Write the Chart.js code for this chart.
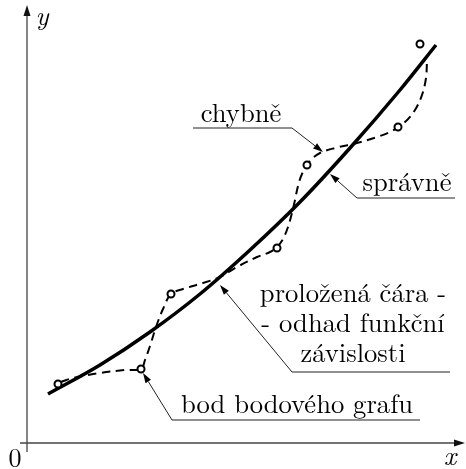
<!DOCTYPE html>
<html>
<head>
<meta charset="utf-8">
<script src="https://cdn.jsdelivr.net/npm/chart.js@4/dist/chart.umd.min.js"></script>
<style>
html,body{margin:0;padding:0;background:#fff;}
canvas{display:block;}
</style>
</head>
<body>
<canvas id="c" width="466" height="469"></canvas>
<script>
// ---- data (units measured from the origin of the drawn axes) ----
const pointX = [31, 114, 144, 250, 280, 371, 393];
const pointY = [59, 74, 149, 195, 278, 316, 399];

const fitX = [21, 73, 123, 173, 223, 273, 323, 373, 409];
const fitY = [49, 78, 111, 149, 193, 241, 295, 353, 398];

const wrongX = [34, 46, 73, 98, 114, 118, 123, 129, 136, 144, 156, 176, 193, 210, 230, 243, 250, 256, 261, 265, 268, 271, 275, 283, 293, 308, 330, 350, 365, 378, 388, 395, 399, 400];
const wrongY = [61, 65, 70, 73, 74, 83, 97, 116, 134, 149, 154, 160, 166, 176, 186, 191, 196, 204, 216, 230, 243, 257, 269, 282, 290, 295, 300, 306, 312, 321, 333, 348, 365, 383];

const axisLabels = ['x', 'y', '0'];
const noteTexts = [
  ['chybně'],
  ['správně'],
  ['proložená čára -', '- odhad funkční', 'závislosti'],
  ['bod bodového grafu']
];
const noteTips = [[296, 291], [303, 269], [193, 158], [116, 70]];

const toXY = (xs, ys) => xs.map((x, i) => ({x: x, y: ys[i]}));

// ---- layout of annotations (data units) ----
const noteLayout = [
  {cx: 214, base: [321], uy: 315, ux1: 166, ux2: 265, elbow: 'right'},
  {cx: 380, base: [252], uy: 245, ux1: 330, ux2: 428, elbow: 'left'},
  {cx: 326, base: [141, 111, 81], uy: 71, ux1: 265, ux2: 423, elbow: 'left'},
  {cx: 270, base: [30], uy: 23, ux1: 145, ux2: 393, elbow: 'left'}
];
const axisExtent = {xFrom: -7, xTo: 438, yFrom: -9, yTo: 438};
const SERIF = '"Latin Modern Roman", "Liberation Serif", serif';

function arrow(ctx, x1, y1, x2, y2, len, hw) {
  const ang = Math.atan2(y2 - y1, x2 - x1);
  const bx = x2 - len * Math.cos(ang), by = y2 - len * Math.sin(ang);
  ctx.beginPath();
  ctx.moveTo(x1, y1);
  ctx.lineTo(bx, by);
  ctx.stroke();
  ctx.beginPath();
  ctx.moveTo(x2, y2);
  ctx.lineTo(bx + hw * Math.sin(ang), by - hw * Math.cos(ang));
  ctx.lineTo(bx - hw * Math.sin(ang), by + hw * Math.cos(ang));
  ctx.closePath();
  ctx.fill();
}

const axesPlugin = {
  id: 'axesPlugin',
  beforeDatasetsDraw(chart) {
    const ctx = chart.ctx, xs = chart.scales.x, ys = chart.scales.y;
    const ox = xs.getPixelForValue(0), oy = ys.getPixelForValue(0);
    ctx.save();
    ctx.strokeStyle = '#444';
    ctx.fillStyle = '#111';
    ctx.lineWidth = 1.3;
    arrow(ctx, xs.getPixelForValue(axisExtent.xFrom), oy, xs.getPixelForValue(axisExtent.xTo), oy, 11, 3.5);
    arrow(ctx, ox, ys.getPixelForValue(axisExtent.yFrom), ox, ys.getPixelForValue(axisExtent.yTo), 11, 3.5);
    ctx.fillStyle = '#000';
    ctx.textBaseline = 'alphabetic';
    ctx.textAlign = 'center';
    ctx.font = 'italic 27px ' + SERIF;
    ctx.fillText(axisLabels[0], xs.getPixelForValue(423), ys.getPixelForValue(-22));
    ctx.fillText(axisLabels[1], xs.getPixelForValue(15), ys.getPixelForValue(418));
    ctx.font = '26px ' + SERIF;
    ctx.fillText(axisLabels[2], xs.getPixelForValue(-12), ys.getPixelForValue(-24));
    ctx.restore();
  },
  afterDatasetsDraw(chart) {
    const ctx = chart.ctx, xs = chart.scales.x, ys = chart.scales.y;
    const px = v => xs.getPixelForValue(v), py = v => ys.getPixelForValue(v);
    ctx.save();
    ctx.strokeStyle = '#222';
    ctx.fillStyle = '#000';
    ctx.lineWidth = 1;
    noteLayout.forEach((L, i) => {
      ctx.beginPath();
      ctx.moveTo(px(L.ux1), py(L.uy));
      ctx.lineTo(px(L.ux2), py(L.uy));
      ctx.stroke();
      const ex = L.elbow === 'left' ? L.ux1 : L.ux2;
      arrow(ctx, px(ex), py(L.uy), px(noteTips[i][0]), py(noteTips[i][1]), 10, 3.2);
      ctx.textAlign = 'center';
      ctx.textBaseline = 'alphabetic';
      ctx.font = '26.6px ' + SERIF;
      noteTexts[i].forEach((t, j) => ctx.fillText(t, px(L.cx), py(L.base[j])));
    });
    ctx.restore();
  }
};

function build() {
  new Chart(document.getElementById('c'), {
    type: 'scatter',
    data: {
      datasets: [
        {
          label: 'body',
          data: toXY(pointX, pointY),
          showLine: false,
          pointRadius: 3.5,
          pointBorderWidth: 2,
          pointBackgroundColor: '#fff',
          pointBorderColor: '#000',
          order: 0
        },
        {
          label: 'správně',
          data: toXY(fitX, fitY),
          showLine: true,
          borderColor: '#000',
          borderWidth: 3.5,
          pointRadius: 0,
          cubicInterpolationMode: 'monotone',
          order: 1
        },
        {
          label: 'chybně',
          data: toXY(wrongX, wrongY),
          showLine: true,
          borderColor: '#000',
          borderWidth: 2,
          borderDash: [8.5, 5.5],
          pointRadius: 0,
          tension: 0.35,
          order: 2
        }
      ]
    },
    options: {
      responsive: false,
      animation: false,
      layout: {padding: 0, autoPadding: false},
      plugins: {legend: {display: false}, tooltip: {enabled: false}},
      scales: {
        x: {type: 'linear', min: -27, max: 439, display: false},
        y: {type: 'linear', min: -26, max: 443, display: false}
      }
    },
    plugins: [axesPlugin]
  });
}

Promise.all([
  document.fonts.load('26px "Latin Modern Roman"'),
  document.fonts.load('italic 27px "Latin Modern Roman"')
]).then(build, build);
</script>
</body>
</html>
